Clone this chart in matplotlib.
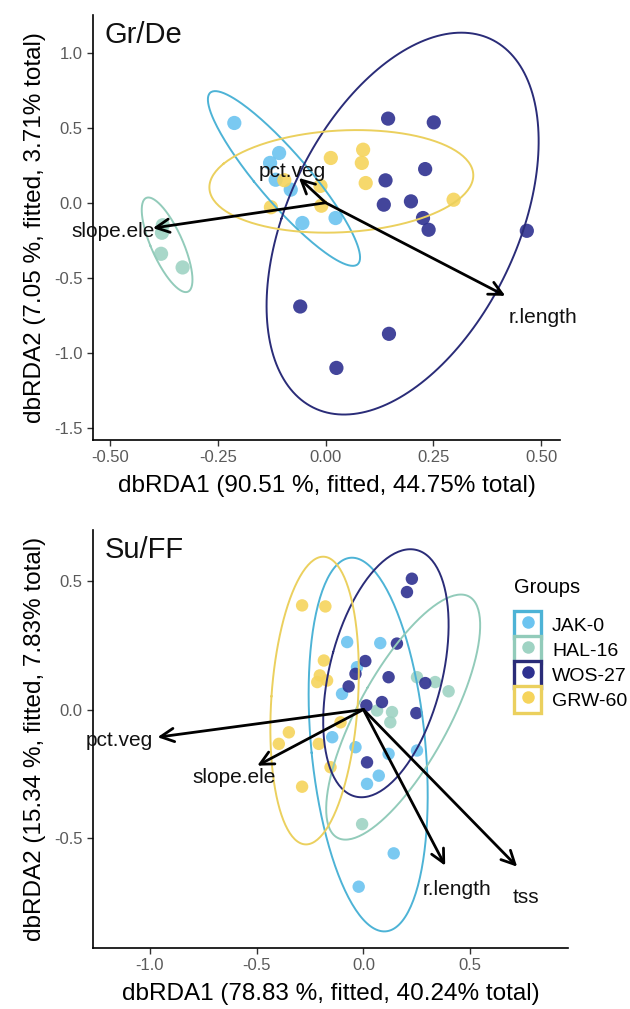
import numpy as np
import matplotlib
matplotlib.use("Agg")
import matplotlib.pyplot as plt
from matplotlib.patches import Rectangle
from matplotlib.lines import Line2D
from matplotlib.legend_handler import HandlerTuple, HandlerPatch
from matplotlib.ticker import FormatStrFormatter

plt.rcParams['font.family'] = ['Liberation Sans', 'DejaVu Sans']

groups = ['JAK-0', 'HAL-16', 'WOS-27', 'GRW-60']
point_col = {'JAK-0': '#6CC4F0', 'HAL-16': '#9FD3C3', 'WOS-27': '#2E3190', 'GRW-60': '#F6D45C'}
line_col = {'JAK-0': '#4DB3D6', 'HAL-16': '#92CBBA', 'WOS-27': '#2A2C78', 'GRW-60': '#EBD05E'}

# ---- Gr/De scores ----
gd_x = {
    'JAK-0': [-0.212, -0.108, -0.129, -0.116, -0.081, -0.054, 0.023],
    'HAL-16': [-0.378, -0.380, -0.382, -0.332],
    'WOS-27': [0.145, 0.251, 0.231, 0.139, 0.135, 0.198, 0.226, 0.239, 0.467, -0.059, 0.147, 0.025],
    'GRW-60': [0.012, 0.087, 0.084, 0.093, -0.096, -0.012, -0.127, -0.010, 0.297],
}
gd_y = {
    'JAK-0': [0.531, 0.331, 0.265, 0.153, 0.087, -0.135, -0.102],
    'HAL-16': [-0.150, -0.200, -0.340, -0.431],
    'WOS-27': [0.560, 0.535, 0.224, 0.149, -0.013, 0.009, -0.102, -0.180, -0.187, -0.691, -0.873, -1.100],
    'GRW-60': [0.298, 0.353, 0.265, 0.131, 0.150, 0.112, -0.030, -0.020, 0.020],
}
gd_vars = ['pct.veg', 'slope.ele', 'r.length']
gd_arrow_x = [-0.062, -0.401, 0.417]
gd_arrow_y = [0.165, -0.169, -0.620]
gd_lab_x = [-0.077, -0.493, 0.505]
gd_lab_y = [0.209, -0.193, -0.767]

# ---- Su/FF scores ----
sf_x = {
    'JAK-0': [-0.076, 0.079, -0.030, -0.100, -0.146, -0.037, 0.118, 0.251, 0.072, 0.017, 0.142, -0.022],
    'HAL-16': [0.251, 0.336, 0.399, 0.064, 0.134, 0.126, -0.006],
    'WOS-27': [0.227, 0.204, 0.157, 0.009, -0.037, -0.069, 0.118, 0.290, 0.087, 0.014, 0.248, 0.017],
    'GRW-60': [-0.287, -0.178, -0.185, -0.204, -0.216, -0.170, -0.349, -0.396, -0.209, -0.107, -0.154, -0.287],
}
sf_y = {
    'JAK-0': [0.263, 0.259, 0.165, 0.061, -0.108, -0.147, -0.173, -0.160, -0.258, -0.290, -0.561, -0.691],
    'HAL-16': [0.126, 0.107, 0.071, -0.004, -0.010, -0.050, -0.447],
    'WOS-27': [0.510, 0.458, 0.257, 0.189, 0.139, 0.090, 0.126, 0.103, 0.029, 0.016, -0.014, -0.206],
    'GRW-60': [0.406, 0.402, 0.191, 0.133, 0.107, 0.113, -0.089, -0.134, -0.134, -0.050, -0.225, -0.301],
}
sf_vars = ['pct.veg', 'slope.ele', 'r.length', 'tss']
sf_arrow_x = [-0.964, -0.497, 0.383, 0.720]
sf_arrow_y = [-0.108, -0.219, -0.609, -0.613]
sf_lab_x = [-1.145, -0.606, 0.438, 0.762]
sf_lab_y = [-0.121, -0.264, -0.700, -0.734]


def ellipse(x, y, n=200):
    # covariance ellipse, 95% chi-square (2 df)
    pts = np.column_stack([x, y])
    c = pts.mean(axis=0)
    cov = np.cov(pts, rowvar=False)
    vals, vecs = np.linalg.eigh(cov)
    r = np.sqrt(-2 * np.log(0.05))
    t = np.linspace(0, 2 * np.pi, n)
    circ = np.column_stack([np.cos(t), np.sin(t)]) * np.sqrt(vals) * r
    e = circ @ vecs.T + c
    return e[:, 0], e[:, 1]


def panel(ax, xs, ys, vars_, ax_x, ax_y, lab_x, lab_y, size, title):
    for g in groups:
        ex, ey = ellipse(xs[g], ys[g])
        ax.plot(ex, ey, color=line_col[g], lw=1.4, zorder=3)
    for g in groups:
        ax.scatter(xs[g], ys[g], s=size, color=point_col[g], edgecolors='none',
                   alpha=0.9, zorder=2)
    for v, hx, hy, lx, ly in zip(vars_, ax_x, ax_y, lab_x, lab_y):
        ax.annotate('', xy=(hx, hy), xytext=(0, 0),
                    arrowprops=dict(arrowstyle='->', lw=2.0, color='black',
                                    mutation_scale=24, shrinkA=0, shrinkB=0),
                    zorder=5)
        ax.text(lx, ly, v, fontsize=15, ha='center', va='center', color='#111111', zorder=6)
    ax.text(0.025, 0.985, title, transform=ax.transAxes, fontsize=21,
            ha='left', va='top', color='#111111')
    for s in ['top', 'right']:
        ax.spines[s].set_visible(False)
    for s in ['left', 'bottom']:
        ax.spines[s].set_linewidth(1.2)
    ax.tick_params(labelsize=12, labelcolor='#5a5a5a', length=4, width=1.0, color='#333333')


def key_box(legend, orig_handle, xdescent, ydescent, width, height, fontsize):
    side = height * 1.08
    return Rectangle((-xdescent + (width - side) / 2, -ydescent + (height - side) / 2),
                     side, side)


fig = plt.figure(figsize=(6.3, 10.09), dpi=100)

ax1 = fig.add_axes([93 / 630, 1 - 440 / 1009, 467 / 630, 425 / 1009])
panel(ax1, gd_x, gd_y, gd_vars, gd_arrow_x, gd_arrow_y, gd_lab_x, gd_lab_y, 105, 'Gr/De')
ax1.set_xlim(-0.54, 0.544)
ax1.set_ylim(-1.58, 1.25)
ax1.set_xticks([-0.5, -0.25, 0, 0.25, 0.5])
ax1.set_yticks([-1.5, -1.0, -0.5, 0, 0.5, 1.0])
ax1.xaxis.set_major_formatter(FormatStrFormatter('%.2f'))
ax1.yaxis.set_major_formatter(FormatStrFormatter('%.1f'))
ax1.set_xlabel('dbRDA1 (90.51 %, fitted, 44.75% total)', fontsize=17.5, labelpad=7)
ax1.set_ylabel('dbRDA2 (7.05 %, fitted, 3.71% total)', fontsize=17.5, labelpad=6)

ax2 = fig.add_axes([93 / 630, 1 - 948 / 1009, 475 / 630, 418 / 1009])
panel(ax2, sf_x, sf_y, sf_vars, sf_arrow_x, sf_arrow_y, sf_lab_x, sf_lab_y, 80, 'Su/FF')
ax2.set_xlim(-1.266, 0.958)
ax2.set_ylim(-0.93, 0.70)
ax2.set_xticks([-1.0, -0.5, 0, 0.5])
ax2.set_yticks([-0.5, 0, 0.5])
ax2.xaxis.set_major_formatter(FormatStrFormatter('%.1f'))
ax2.yaxis.set_major_formatter(FormatStrFormatter('%.1f'))
ax2.set_xlabel('dbRDA1 (78.83 %, fitted, 40.24% total)', fontsize=17.5, labelpad=7)
ax2.set_ylabel('dbRDA2 (15.34 %, fitted, 7.83% total)', fontsize=17.5, labelpad=6)

handles = []
for g in groups:
    box = Rectangle((0, 0), 1, 1, facecolor='white', edgecolor=line_col[g], lw=2.4)
    dot = Line2D([], [], marker='o', ls='none', markersize=9,
                 markerfacecolor=point_col[g], markeredgecolor='none')
    handles.append((box, dot))
leg = fig.legend(handles, groups,
                 handler_map={tuple: HandlerTuple(ndivide=1, pad=0),
                              Rectangle: HandlerPatch(patch_func=key_box)},
                 loc='upper left', bbox_to_anchor=(514 / 630, 1 - 578 / 1009),
                 frameon=False, fontsize=14, title='Groups', title_fontsize=14.5,
                 handlelength=1.4, handleheight=1.6, labelspacing=0.0,
                 handletextpad=0.55, borderaxespad=0, borderpad=0)
leg._legend_box.align = 'left'
leg._legend_box.sep = 11

fig.savefig('out.png', dpi=100)
